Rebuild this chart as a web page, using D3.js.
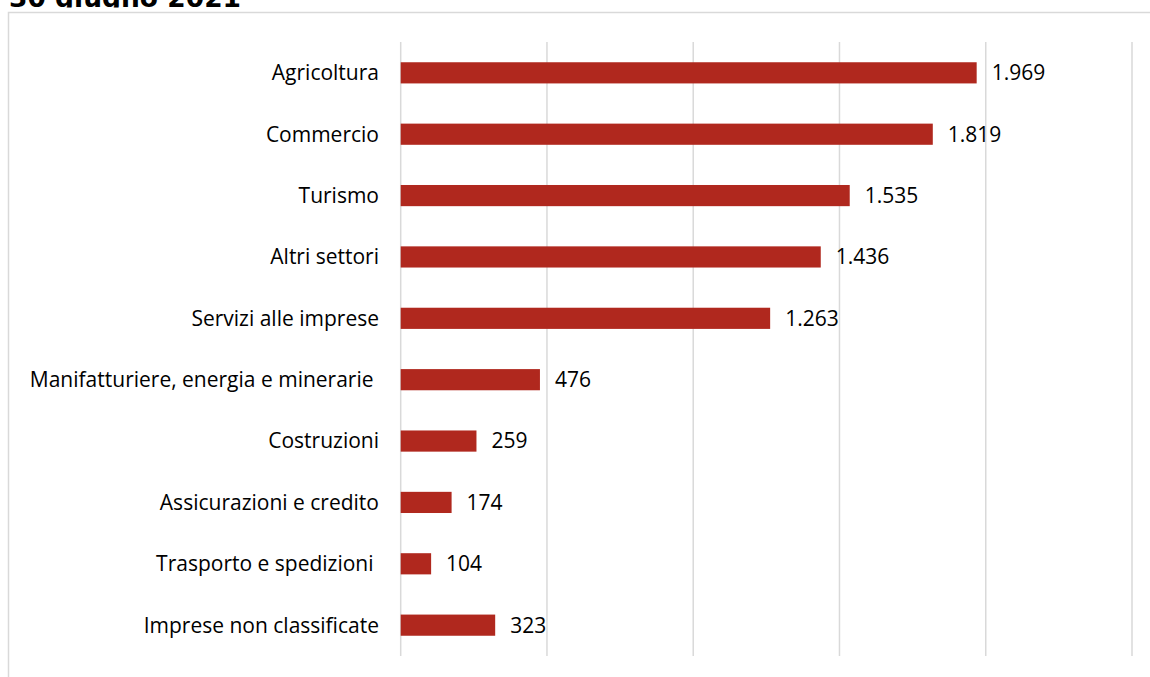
<!DOCTYPE html>
<html>
<head>
<meta charset="utf-8">
<script src="https://cdn.jsdelivr.net/npm/d3@7"></script>
<style>
  body { margin: 0; background: #fff; }
  .grid line { stroke: #d9d9d9; stroke-width: 1.5; }
  .lbl { font-family: "Open Sans", sans-serif; font-size: 21px; fill: #000; }
</style>
</head>
<body>
<div id="chart"></div>
<script>
var categories = ["Agricoltura", "Commercio", "Turismo", "Altri settori", "Servizi alle imprese",
    "Manifatturiere, energia e minerarie ", "Costruzioni", "Assicurazioni e credito",
    "Trasporto e spedizioni ", "Imprese non classificate"];
var values = [1969, 1819, 1535, 1436, 1263, 476, 259, 174, 104, 323];
var valueLabels = ["1.969", "1.819", "1.535", "1.436", "1.263", "476", "259", "174", "104", "323"];
var gridTicks = [0, 500, 1000, 1500, 2000, 2500];

var width = 1150, height = 677;

var svg = d3.select("#chart").append("svg")
    .attr("width", width)
    .attr("height", height);

// title is cut off at top and bottom like in the original screenshot
svg.append("clipPath")
    .attr("id", "titleclip")
    .append("rect")
    .attr("x", 0).attr("y", 0)
    .attr("width", 400).attr("height", 7.5);

svg.append("text")
    .attr("x", 9)
    .attr("y", 7)
    .attr("clip-path", "url(#titleclip)")
    .style("font-family", "DejaVu Sans, sans-serif")
    .style("font-weight", "bold")
    .style("font-size", "26.5px")
    .text("30 giugno 2021");

// chart frame
svg.append("rect")
    .attr("x", 8.5).attr("y", 12.5)
    .attr("width", 1160).attr("height", 700)
    .attr("fill", "none")
    .attr("stroke", "#d9d9d9")
    .attr("stroke-width", 1.5);

var x = d3.scaleLinear()
    .domain([0, 2500])
    .range([400.7, 1132]);

var y = d3.scaleBand()
    .domain(categories)
    .range([42, 656])
    .paddingInner(0.655)
    .paddingOuter(0.33);

// gridlines
var grid = svg.append("g").attr("class", "grid");
grid.selectAll("line")
    .data(gridTicks)
    .enter().append("line")
    .attr("x1", function(d) { return x(d); })
    .attr("x2", function(d) { return x(d); })
    .attr("y1", 42)
    .attr("y2", 656);

// bars
svg.selectAll(".bar")
    .data(values)
    .enter().append("rect")
    .attr("class", "bar")
    .attr("x", x(0))
    .attr("y", function(d, i) { return y(categories[i]); })
    .attr("width", function(d) { return x(d) - x(0); })
    .attr("height", y.bandwidth())
    .attr("fill", "#b0281e");

// category labels
svg.selectAll(".cat")
    .data(categories)
    .enter().append("text")
    .attr("class", "lbl")
    .attr("x", 379)
    .attr("y", function(d) { return y(d) + y.bandwidth() / 2; })
    .attr("dy", "0.35em")
    .style("text-anchor", "end")
    .style("white-space", "pre")
    .text(function(d) { return d; });

// value labels
svg.selectAll(".val")
    .data(values)
    .enter().append("text")
    .attr("class", "lbl")
    .attr("x", function(d) { return x(d) + 15; })
    .attr("y", function(d, i) { return y(categories[i]) + y.bandwidth() / 2; })
    .attr("dy", "0.35em")
    .text(function(d, i) { return valueLabels[i]; });
</script>
</body>
</html>
